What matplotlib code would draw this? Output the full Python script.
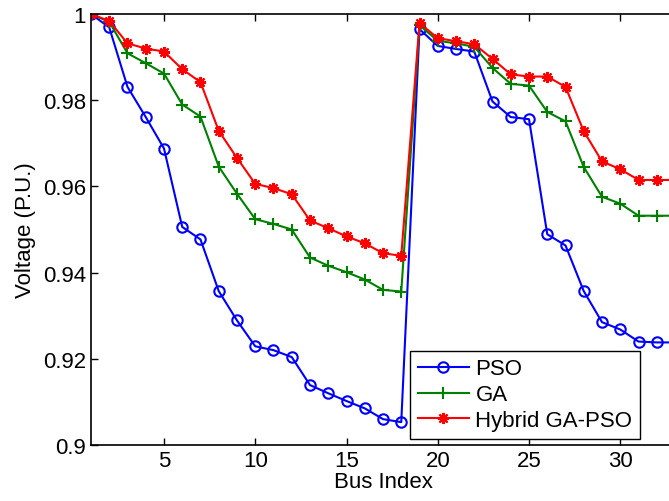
import numpy as np
import matplotlib.pyplot as plt

plt.rcParams['font.family'] = ['Liberation Sans', 'DejaVu Sans']

bus = np.arange(1, 34)

pso = [1.0, 0.9969, 0.9831, 0.9761, 0.9688, 0.9506, 0.9477, 0.9357, 0.9289, 0.9229,
       0.9220, 0.9204, 0.9139, 0.9120, 0.9102, 0.9085, 0.9060, 0.9053,
       0.9965, 0.9926, 0.9919, 0.9913, 0.9797, 0.9761, 0.9756, 0.9489, 0.9463,
       0.9357, 0.9285, 0.9268, 0.9240, 0.9238, 0.9238]

ga = [1.0, 0.9982, 0.9909, 0.9886, 0.9862, 0.9790, 0.9762, 0.9646, 0.9583, 0.9524,
      0.9513, 0.9500, 0.9435, 0.9416, 0.9401, 0.9384, 0.9360, 0.9356,
      0.9974, 0.9938, 0.9932, 0.9924, 0.9875, 0.9838, 0.9834, 0.9773, 0.9751,
      0.9645, 0.9576, 0.9560, 0.9532, 0.9532, 0.9532]

hybrid = [1.0, 0.9984, 0.9932, 0.9920, 0.9913, 0.9872, 0.9842, 0.9729, 0.9666, 0.9606,
          0.9596, 0.9582, 0.9521, 0.9503, 0.9484, 0.9468, 0.9445, 0.9439,
          0.9979, 0.9944, 0.9937, 0.9930, 0.9896, 0.9860, 0.9855, 0.9855, 0.9831,
          0.9728, 0.9658, 0.9640, 0.9615, 0.9615, 0.9615]

fig = plt.figure(figsize=(6.69, 5.02), dpi=100)
ax = fig.add_axes([0.136, 0.1116, 0.873, 0.8584])

# MATLAB-style asterisk for the hybrid curve
ax.plot(bus, pso, color='b', marker='o', mfc='none', ms=7.5, mew=1.5, lw=1.5, label='PSO')
ax.plot(bus, ga, color=(0, 0.5, 0), marker='+', ms=8, mew=1.5, lw=1.5, label='GA')
ax.plot(bus, hybrid, color='r', marker=(8, 2, 0), ms=8, mew=1.5, lw=1.5, label='Hybrid GA-PSO')

ax.set_xlim(1, 33)
ax.set_ylim(0.9, 1.0)
ax.set_xticks([5, 10, 15, 20, 25, 30])
ax.set_yticks([0.9, 0.92, 0.94, 0.96, 0.98, 1.0])
ax.set_yticklabels(['0.9', '0.92', '0.94', '0.96', '0.98', '1'])
ax.tick_params(direction='in', top=True, right=False, labelsize=16, length=5, width=1)
for s in ax.spines.values():
    s.set_linewidth(1.2)

ax.set_xlabel('Bus Index', fontsize=16, labelpad=0)
ax.set_ylabel('Voltage (P.U.)', fontsize=16, labelpad=5)

leg = ax.legend(loc='lower right', bbox_to_anchor=(0.957, 0.1235),
                bbox_transform=fig.transFigure, fontsize=16, fancybox=False,
                framealpha=1, edgecolor='black', borderaxespad=0,
                handlelength=2.3, handletextpad=0.3, labelspacing=0.22,
                borderpad=0.35)
leg.get_frame().set_linewidth(1.0)

fig.savefig('out.png', dpi=100)
